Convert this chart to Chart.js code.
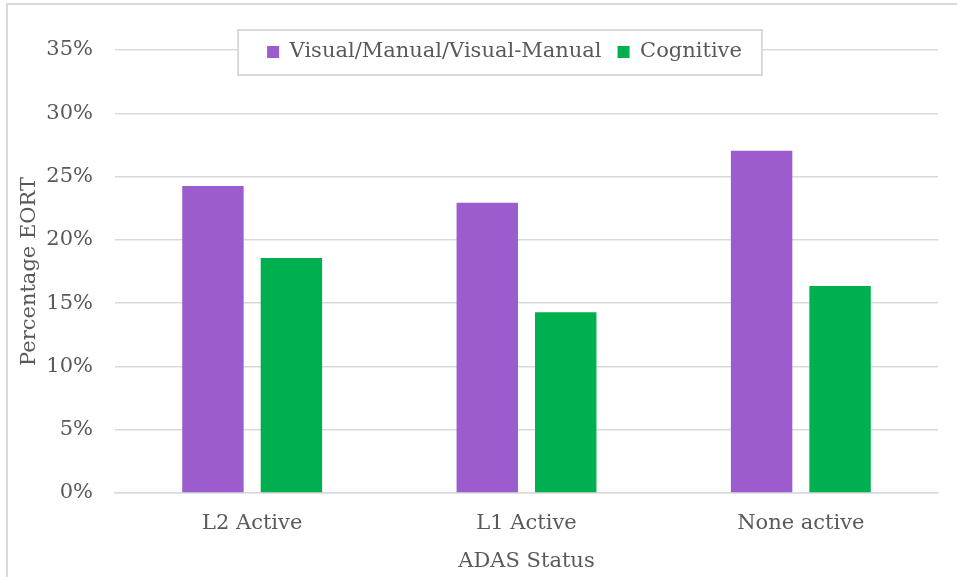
<!DOCTYPE html>
<html>
<head>
<meta charset="utf-8">
<script src="https://cdn.jsdelivr.net/npm/chart.js@4/dist/chart.umd.min.js"></script>
<style>
  html, body { margin: 0; padding: 0; background: #ffffff; }
  #wrap { width: 957px; height: 577px; position: relative; }
</style>
</head>
<body>
<div id="wrap"><canvas id="c" width="957" height="577"></canvas></div>
<script>
const categories = ["L2 Active", "L1 Active", "None active"];
const seriesNames = ["Visual/Manual/Visual-Manual", "Cognitive"];
const visualManual = [24.25, 22.94, 27.04];
const cognitive = [18.57, 14.28, 16.35];
const yTicks = [0, 5, 10, 15, 20, 25, 30, 35];
const yTitle = "Percentage EORT";
const xTitle = "ADAS Status";

const FONT = "'DejaVu Serif', 'Liberation Serif', serif";
const TEXT = "#595959";
const GRID = "#d9d9d9";

const frameAndLegend = {
  id: 'frameAndLegend',
  beforeDraw(chart) {
    const ctx = chart.ctx;
    ctx.save();
    ctx.fillStyle = '#ffffff';
    ctx.fillRect(0, 0, chart.width, chart.height);
    ctx.strokeStyle = GRID;
    ctx.lineWidth = 2;
    ctx.beginPath();
    ctx.moveTo(7, chart.height + 5);
    ctx.lineTo(7, 4);
    ctx.lineTo(chart.width + 5, 4);
    ctx.stroke();
    ctx.restore();
  },
  beforeLayout(chart) {
    const lg = chart.legend;
    if (lg && !lg._wrapped) {
      lg._wrapped = true;
      const origFit = lg.fit.bind(lg);
      lg.fit = function () {
        origFit();
        this._realH = this.height;
        this.height = 0;
      };
      const origDraw = lg.draw.bind(lg);
      lg.draw = function () {
        const hb = this.legendHitBoxes;
        if (hb && hb.length) {
          let l = Infinity, r = -Infinity;
          hb.forEach(b => { l = Math.min(l, b.left); r = Math.max(r, b.left + b.width); });
          const cy = hb[0].top + hb[0].height / 2;
          const ctx = this.ctx;
          ctx.save();
          ctx.fillStyle = '#ffffff';
          ctx.strokeStyle = GRID;
          ctx.lineWidth = 2;
          const x0 = l - 29, x1 = r + 20, y0 = cy - 22, y1 = cy + 23;
          ctx.fillRect(x0, y0, x1 - x0, y1 - y0);
          ctx.strokeRect(x0, y0, x1 - x0, y1 - y0);
          ctx.restore();
        }
        origDraw();
      };
    }
  },
  afterLayout(chart) {
    const lg = chart.legend;
    if (!lg) return;
    const ca = chart.chartArea;
    const pad = lg.options.labels.padding;
    const ih = (lg.legendHitBoxes && lg.legendHitBoxes[0]) ? lg.legendHitBoxes[0].height : 25;
    lg.height = lg._realH;
    lg.top = ca.top + 2 - pad - ih / 2;
    lg.bottom = lg.top + lg.height;
    lg.left = ca.left - 44;
    lg.right = ca.right;
    lg.width = lg.right - lg.left;
  }
};

new Chart(document.getElementById('c'), {
  type: 'bar',
  data: {
    labels: categories,
    datasets: [
      { label: seriesNames[0], data: visualManual, backgroundColor: '#9b5dcd', borderWidth: 0,
        categoryPercentage: 0.572, barPercentage: 0.783 },
      { label: seriesNames[1], data: cognitive, backgroundColor: '#00b050', borderWidth: 0,
        categoryPercentage: 0.572, barPercentage: 0.783 }
    ]
  },
  options: {
    responsive: false,
    animation: false,
    devicePixelRatio: 1,
    layout: { padding: { left: 8, top: 50, right: 19, bottom: 0 } },
    plugins: {
      legend: {
        position: 'top',
        labels: {
          font: { family: FONT, size: 21 },
          color: TEXT,
          boxWidth: 12,
          boxHeight: 12,
          padding: 16
        }
      },
      tooltip: { enabled: false }
    },
    scales: {
      x: {
        grid: { display: false, drawTicks: false },
        border: { display: true, color: GRID, width: 1.5 },
        ticks: { font: { family: FONT, size: 21 }, color: TEXT, padding: 18 },
        title: { display: true, text: xTitle, font: { family: FONT, size: 21 }, color: TEXT,
                 padding: { top: 0, bottom: 3 } },
        afterFit(s) { s.height = 84; }
      },
      y: {
        min: 0, max: 35,
        afterBuildTicks(s) { s.ticks = yTicks.map(v => ({ value: v })); },
        grid: { color: GRID, lineWidth: 1.5, drawTicks: false, z: -1 },
        border: { display: false },
        ticks: { font: { family: FONT, size: 21 }, color: TEXT, padding: 22,
                 callback: v => v + '%' },
        title: { display: true, text: yTitle, font: { family: FONT, size: 21 }, color: TEXT,
                 padding: { top: 9, bottom: 0 } },
        afterFit(s) { s.width = 107; }
      }
    }
  },
  plugins: [frameAndLegend]
});
</script>
</body>
</html>
